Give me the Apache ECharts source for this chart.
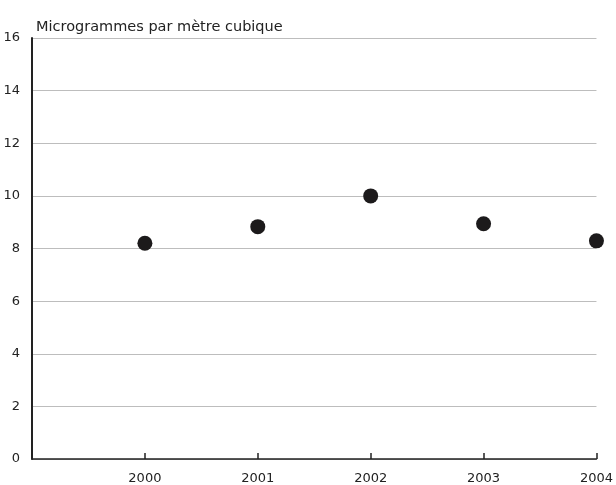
<!DOCTYPE html>
<html lang="fr">
<head>
    <meta charset="UTF-8">
    <title>Microgrammes par mètre cubique</title>
    <script src="https://cdn.jsdelivr.net/npm/echarts@6/dist/echarts.min.js"></script>
    <style>
        *{
            margin:0;
            padding:0;
        }
        html,body{
            height:100%;
            width:100%;
            background:#fff;
        }
        #chart{
            width:616px;
            height:485px;
        }
    </style>
</head>
<body>
    <div id="chart"></div>
    <script>
        // annees et valeurs (µg/m3)
        var years=[2000,2001,2002,2003,2004];
        var values=[8.2,8.83,10.0,8.94,8.29];
        var yTicks=[0,2,4,6,8,10,12,14,16];

        var points=[];
        for(var i=0;i<years.length;i++){
            points.push([years[i],values[i]]);
        }

        var myCharts=echarts.init(document.getElementById("chart"));
        var option={
            animation:false,
            textStyle:{
                fontFamily:"DejaVu Sans"
            },
            title:{
                text:"Microgrammes par mètre cubique",
                left:31,
                top:15,
                textStyle:{
                    fontSize:14.5,
                    fontWeight:"normal",
                    color:"#222",
                    fontFamily:"DejaVu Sans"
                }
            },
            grid:{
                left:32,
                right:18,
                top:38,
                bottom:25
            },
            xAxis:{
                type:"value",
                min:1999,
                max:2004,
                interval:1,
                axisLine:{
                    lineStyle:{color:"#222",width:1.5}
                },
                axisTick:{
                    show:true,
                    inside:true,
                    length:6,
                    lineStyle:{color:"#222",width:1.5}
                },
                splitLine:{show:false},
                axisLabel:{
                    color:"#222",
                    fontSize:13,
                    margin:13,
                    formatter:function(v){
                        return v==1999?"":String(v);//pas d'etiquette a l'origine
                    }
                }
            },
            yAxis:{
                type:"value",
                min:yTicks[0],
                max:yTicks[yTicks.length-1],
                interval:2,
                axisLine:{
                    show:true,
                    lineStyle:{color:"#222",width:2}
                },
                axisTick:{show:false},
                axisLabel:{
                    color:"#222",
                    fontSize:13,
                    margin:12
                },
                splitLine:{
                    lineStyle:{color:"#bdbdbd",width:1.2}
                }
            },
            series:[
                {
                    type:"scatter",
                    data:points,
                    symbol:"circle",
                    symbolSize:15,
                    itemStyle:{
                        color:"#1c1a1b",
                        opacity:1
                    }
                }
            ]
        };
        myCharts.setOption(option);
        window.onresize=myCharts.resize;
    </script>
</body>
</html>
